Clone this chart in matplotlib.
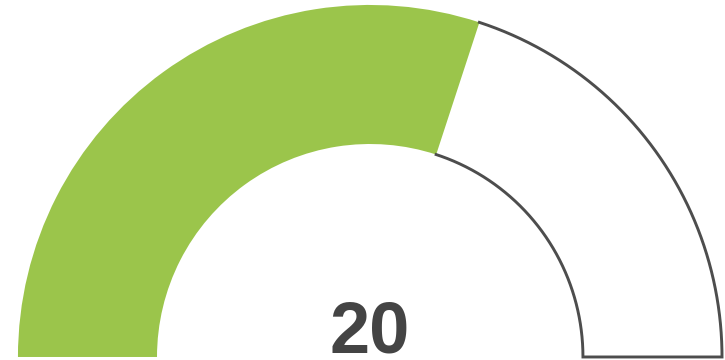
import matplotlib
matplotlib.use("Agg")
import matplotlib.pyplot as plt
import numpy as np
from matplotlib.patches import Wedge

# gauge settings
value = 20
gauge_min = 0
gauge_max = 33.3
value_label = "20"

outer_r = 1.0
inner_r = 0.605
green = "#9bc54b"
line_col = "#4d4d4d"
text_col = "#444444"

fig = plt.figure(figsize=(7.25, 3.6), dpi=100)
ax = fig.add_axes([0, 0, 1, 1])
ax.set_aspect("equal")
ax.axis("off")
ax.set_xlim(-1.051, 1.0085)
ax.set_ylim(-0.0085, 1.014)

frac = (value - gauge_min) / (gauge_max - gauge_min)
theta_v = 180.0 * (1 - frac)  # angle where the fill stops (degrees)

# filled part of the gauge
ax.add_patch(Wedge((0, 0), outer_r, theta_v, 180, width=outer_r - inner_r,
                   facecolor=green, edgecolor="none"))

# outline of the empty part: outer arc -> bottom edge -> inner arc
t_out = np.radians(np.linspace(theta_v, 0, 200))
t_in = np.radians(np.linspace(0, theta_v, 200))
xs = np.concatenate([outer_r * np.cos(t_out), inner_r * np.cos(t_in)])
ys = np.concatenate([outer_r * np.sin(t_out), inner_r * np.sin(t_in)])
ax.plot(xs, ys, color=line_col, lw=2.1, solid_joinstyle="miter")

ax.text(0, 0.012, value_label, ha="center", va="baseline", fontsize=52,
        fontweight="bold", family="Liberation Sans", color=text_col)

fig.savefig("out.png", dpi=100, facecolor="white")
